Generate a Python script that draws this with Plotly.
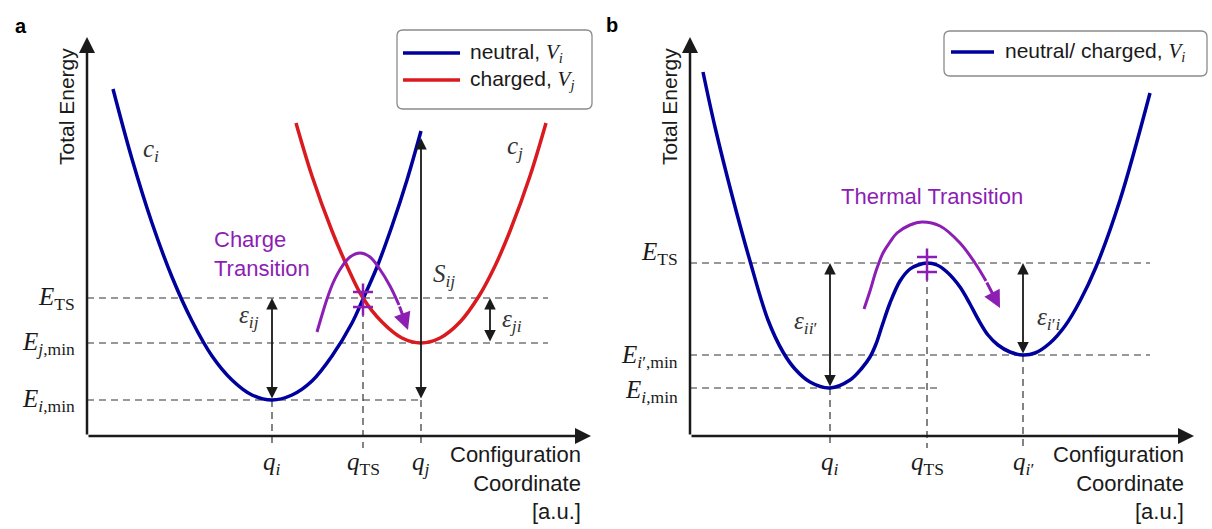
import plotly.graph_objects as go

# ---------------- panel a: neutral / charged parabolas ----------------
# configuration coordinates (a.u.)
qa_vals = [185, 276, 334]
qa_text = ["<i>q</i><sub><i>i</i></sub>", "<i>q</i><sub>TS</sub>", "<i>q</i><sub><i>j</i></sub>"]
# energy levels: E_i,min, E_j,min, E_TS
ea_vals = [36, 93, 138]
ea_text = ["<i>E</i><sub><i>i</i>,min</sub>", "<i>E</i><sub><i>j</i>,min</sub>", "<i>E</i><sub>TS</sub>"]

# neutral state V_i
vi_q = [26, 45, 65, 85, 105, 125, 145, 165, 185, 205, 225, 245, 265, 276, 290, 305, 320, 334]
vi_e = [347, 277, 213, 159, 115, 80, 56, 41, 36, 41, 55, 80, 113, 137, 169, 210, 256, 305]
# charged state V_j
vj_q = [209, 225, 245, 260, 276, 295, 315, 334, 353, 373, 392, 408, 423, 443, 459]
vj_e = [313, 260, 205, 170, 138, 114, 98, 93, 98, 114, 140, 170, 205, 260, 313]
# charge transition path
arc_a_q = [230, 235, 240, 246, 254, 263, 273, 283, 292, 303, 312]
arc_a_e = [104, 121, 137, 153, 168, 179, 183, 179, 168, 150, 131]
arc_a_tip = (321, 106)

# ---------------- panel b: double well ----------------
qb_vals = [140, 237, 333]
qb_text = ["<i>q</i><sub><i>i</i></sub>", "<i>q</i><sub>TS</sub>", "<i>q</i><sub><i>i</i>′</sub>"]
# energy levels: E_i,min, E_i',min, E_TS
eb_vals = [48, 81, 173]
eb_text = ["<i>E</i><sub><i>i</i>,min</sub>", "<i>E</i><sub><i>i</i>′,min</sub>", "<i>E</i><sub>TS</sub>"]

vb_q = [13, 25, 43, 60, 78, 93, 105, 120, 140, 160, 172, 180, 186, 192, 200, 210, 220, 228, 237,
        247, 257, 270, 280, 288, 298, 308, 320, 333, 345, 360, 375, 390, 406, 430, 460]
vb_e = [364, 309, 237, 175, 116, 84, 67, 54, 48, 56, 68, 79, 92, 110, 133, 155, 167, 171, 173,
        171, 164, 149, 132, 117, 101, 91, 84, 81, 83, 93, 110, 135, 169, 236, 343]
arc_b_q = [174, 180, 186, 193, 200, 207, 220, 232, 250, 270, 285, 296]
arc_b_e = [127, 145, 165, 183, 194, 203, 211, 214, 210, 193, 173, 155]
arc_b_tip = (310, 128)

BLUE = "#00009C"
RED = "#D91A1F"
PURPLE = "#8C1EB4"
INK = "#1a1a1a"
DASH = "#333333"
SANS = "Liberation Sans, Arial, sans-serif"
SERIF = "Liberation Serif, Times New Roman, serif"
MATH = 25

fig = go.Figure()

PANELS = [
    dict(x="x", y="y", q=qa_vals, qt=qa_text, e=ea_vals, et=ea_text),
    dict(x="x2", y="y2", q=qb_vals, qt=qb_text, e=eb_vals, et=eb_text),
]


def curve(xr, yr, xs, ys, color, width):
    fig.add_trace(go.Scatter(x=xs, y=ys, xaxis=xr, yaxis=yr, mode="lines",
                             line=dict(color=color, width=width, shape="spline", smoothing=1.0),
                             hoverinfo="skip", showlegend=False))


def dashed(xr, yr, x0, y0, x1, y1):
    fig.add_shape(type="line", xref=xr, yref=yr, x0=x0, y0=y0, x1=x1, y1=y1,
                  line=dict(color=DASH, width=1.2, dash="7px,5px"), layer="below")


def arrow(xr, yr, x0, y0, x1, y1, color, width, size, both=False):
    fig.add_annotation(x=x1, y=y1, ax=x0, ay=y0, xref=xr, yref=yr, axref=xr, ayref=yr,
                       text="", showarrow=True, arrowhead=2, arrowsize=size, arrowwidth=width,
                       arrowcolor=color, arrowside="end+start" if both else "end",
                       startarrowhead=2, startarrowsize=size)


def label(xr, yr, x, y, text, size=MATH, family=SERIF, color=INK, xanchor="center",
          yanchor="middle", align="center", angle=0):
    fig.add_annotation(x=x, y=y, xref=xr, yref=yr, text=text, showarrow=False,
                       font=dict(family=family, size=size, color=color),
                       xanchor=xanchor, yanchor=yanchor, align=align, textangle=angle)


def ts_mark(xr, yr, q, e):
    c = e - 1.5
    fig.add_shape(type="line", xref=xr, yref=yr, x0=q, x1=q, y0=c - 16, y1=c + 16,
                  line=dict(color=PURPLE, width=2.5))
    for dy in (-7.5, 7.5):
        fig.add_shape(type="line", xref=xr, yref=yr, x0=q - 10, x1=q + 10, y0=c + dy, y1=c + dy,
                      line=dict(color=PURPLE, width=2.5))


def legend_box(xr, yr, x0, y0, x1, y1, r=6):
    path = (f"M{x0 + r},{y0} L{x1 - r},{y0} Q{x1},{y0} {x1},{y0 + r} L{x1},{y1 - r} "
            f"Q{x1},{y1} {x1 - r},{y1} L{x0 + r},{y1} Q{x0},{y1} {x0},{y1 - r} "
            f"L{x0},{y0 + r} Q{x0},{y0} {x0 + r},{y0} Z")
    fig.add_shape(type="path", path=path, xref=xr, yref=yr,
                  line=dict(color="#8a8a8a", width=1.3), fillcolor="white")


# common frame: axes arrows, axis titles, tick labels
for p in PANELS:
    xr, yr = p["x"], p["y"]
    arrow(xr, yr, 0, 0, 504, 0, INK, 2.5, 1.28)
    arrow(xr, yr, 0, 0, 0, 399, INK, 2.5, 1.28)
    label(xr, yr, -21, 329, "Total Energy", size=21, family=SANS, angle=-90)
    label(xr, yr, 496, -4, "Configuration<br>Coordinate<br>[a.u.]", size=22, family=SANS,
          xanchor="right", yanchor="top", align="right")
    for qv, qt in zip(p["q"], p["qt"]):
        label(xr, yr, qv, -27, qt)

# ---- panel a content ----
xr, yr = "x", "y"
qi, qts, qj = qa_vals
e_i, e_j, e_ts = ea_vals
dashed(xr, yr, 0, e_ts, 461, e_ts)
dashed(xr, yr, 0, e_j, 461, e_j)
dashed(xr, yr, 0, e_i, qj, e_i)
dashed(xr, yr, qi, e_i, qi, -12)
dashed(xr, yr, qts, e_ts, qts, -12)
dashed(xr, yr, qj, e_i, qj, -12)
for ev, et in zip(ea_vals, ea_text):
    label(xr, yr, -10, ev, et, xanchor="right")

curve(xr, yr, vi_q, vi_e, BLUE, 3.5)
curve(xr, yr, vj_q, vj_e, RED, 3.5)
arrow(xr, yr, qi, e_i, qi, e_ts, INK, 1.8, 1.28, both=True)
arrow(xr, yr, 403, e_j, 403, e_ts, INK, 1.8, 1.28, both=True)
arrow(xr, yr, qj, e_i, qj, 298, INK, 1.8, 1.28, both=True)
label(xr, yr, 162, 120, "<i>ε</i><sub><i>ij</i></sub>", color="#333")
label(xr, yr, 425, 116, "<i>ε</i><sub><i>ji</i></sub>", color="#333")
label(xr, yr, 357, 161, "<i>S</i><sub><i>ij</i></sub>", color="#333")
label(xr, yr, 64, 286, "<i>c</i><sub><i>i</i></sub>", color="#333")
label(xr, yr, 428, 289, "<i>c</i><sub><i>j</i></sub>", color="#333")

curve(xr, yr, arc_a_q, arc_a_e, PURPLE, 3)
arrow(xr, yr, arc_a_q[-1], arc_a_e[-1], arc_a_tip[0], arc_a_tip[1], PURPLE, 3, 1.15)
ts_mark(xr, yr, qts, e_ts)
label(xr, yr, 125, 182, "Charge<br>Transition", size=22, family=SANS, color=PURPLE,
      xanchor="left", align="left")

legend_box(xr, yr, 310, 327, 505, 406)
fig.add_shape(type="line", xref=xr, yref=yr, x0=316, x1=373, y0=383, y1=383,
              line=dict(color=BLUE, width=3.5))
fig.add_shape(type="line", xref=xr, yref=yr, x0=316, x1=373, y0=356, y1=356,
              line=dict(color=RED, width=3.5))
label(xr, yr, 381, 383, f"neutral, <span style='font-family:{SERIF}'><i>V</i><sub><i>i</i></sub></span>",
      size=21, family=SANS, xanchor="left")
label(xr, yr, 381, 356, f"charged, <span style='font-family:{SERIF}'><i>V</i><sub><i>j</i></sub></span>",
      size=21, family=SANS, xanchor="left")

# ---- panel b content ----
xr, yr = "x2", "y2"
qi, qts, qi2 = qb_vals
e_i, e_i2, e_ts = eb_vals
dashed(xr, yr, 0, e_ts, 460, e_ts)
dashed(xr, yr, 0, e_i2, 460, e_i2)
dashed(xr, yr, 0, e_i, 248, e_i)
dashed(xr, yr, qi, e_i, qi, -12)
dashed(xr, yr, qts, e_ts, qts, -12)
dashed(xr, yr, qi2, e_i2, qi2, -12)
for ev, et, dy in zip(eb_vals, eb_text, (-3, -1, 10)):
    label(xr, yr, -10, ev + dy, et, xanchor="right")

curve(xr, yr, vb_q, vb_e, BLUE, 3.5)
arrow(xr, yr, qi, e_i, qi, e_ts, INK, 1.8, 1.28, both=True)
arrow(xr, yr, qi2, e_i2, qi2, e_ts, INK, 1.8, 1.28, both=True)
label(xr, yr, 115, 114, "<i>ε</i><sub><i>ii</i>′</sub>", color="#333")
label(xr, yr, 359, 118, "<i>ε</i><sub><i>i</i>′<i>i</i></sub>", color="#333")

curve(xr, yr, arc_b_q, arc_b_e, PURPLE, 3)
arrow(xr, yr, arc_b_q[-1], arc_b_e[-1], arc_b_tip[0], arc_b_tip[1], PURPLE, 3, 1.15)
ts_mark(xr, yr, qts, e_ts)
label(xr, yr, 242, 240, "Thermal Transition", size=22, family=SANS, color=PURPLE)

legend_box(xr, yr, 254, 360, 517, 405)
fig.add_shape(type="line", xref=xr, yref=yr, x0=261, x1=304, y0=384, y1=384,
              line=dict(color=BLUE, width=3.5))
label(xr, yr, 313, 384,
      f"neutral/ charged, <span style='font-family:{SERIF}'><i>V</i><sub><i>i</i></sub></span>",
      size=21, family=SANS, xanchor="left")

# panel letters
fig.add_annotation(x=13 / 1212, y=1 - 13 / 529, xref="paper", yref="paper", text="<b>a</b>",
                   showarrow=False, font=dict(family=SANS, size=20, color="black"))
fig.add_annotation(x=612 / 1212, y=1 - 12 / 529, xref="paper", yref="paper", text="<b>b</b>",
                   showarrow=False, font=dict(family=SANS, size=20, color="black"))

hidden = dict(visible=False, showgrid=False, zeroline=False, fixedrange=True)
fig.update_layout(
    width=1212, height=529, autosize=False,
    margin=dict(l=0, r=0, t=0, b=0, pad=0),
    paper_bgcolor="white", plot_bgcolor="white",
    showlegend=False,
    xaxis=dict(domain=[0, 0.5], range=[-87, 519], anchor="y", **hidden),
    yaxis=dict(domain=[0, 1], range=[-93, 436], anchor="x", **hidden),
    xaxis2=dict(domain=[0.5, 1], range=[-84, 522], anchor="y2", **hidden),
    yaxis2=dict(domain=[0, 1], range=[-93, 436], anchor="x2", **hidden),
)

fig.write_html("out.html")
